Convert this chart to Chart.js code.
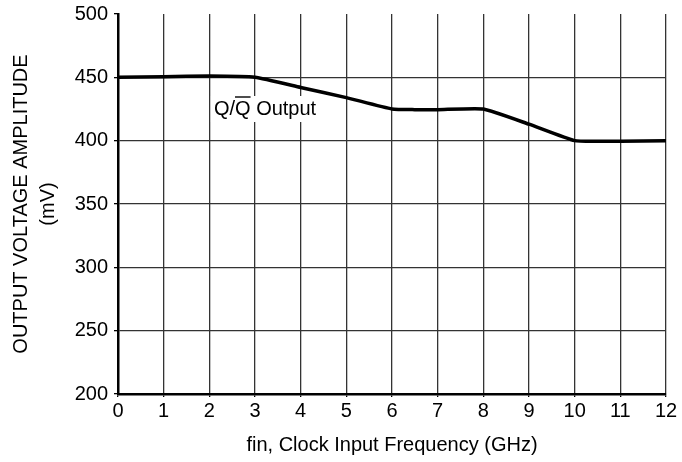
<!DOCTYPE html>
<html>
<head>
<meta charset="utf-8">
<script src="https://cdn.jsdelivr.net/npm/chart.js@4/dist/chart.umd.min.js"></script>
<style>
  html, body { margin: 0; padding: 0; background: #fff; }
  #wrap { width: 682px; height: 462px; }
</style>
</head>
<body>
<div id="wrap"><canvas id="ampChart" width="682" height="462"></canvas></div>
<script>
// values
const freqGHz = [0, 1, 2, 3, 4, 5, 6, 6.5, 7, 8, 9, 10, 10.5, 11, 12];
const amplitudeMv = [450, 450.5, 451, 450, 442, 434, 425, 424.5, 424.5, 425, 413, 400, 399.5, 399.5, 400];
const curveLabel = { x: 2.1, y: 425, main: 'Q/', bar: 'Q', tail: ' Output' };

const FONT = '"Liberation Sans", Arial, sans-serif';

// draws the "Q/Q Output" note with an overline over the second Q
const labelPlugin = {
    id: 'curveLabel',
    afterDatasetsDraw(chart) {
        const ctx = chart.ctx;
        const xs = chart.scales.x, ys = chart.scales.y;
        const px = xs.getPixelForValue(curveLabel.x);
        const py = ys.getPixelForValue(curveLabel.y);
        ctx.save();
        ctx.font = '20px ' + FONT;
        ctx.textBaseline = 'middle';
        const w1 = ctx.measureText(curveLabel.main).width;
        const w2 = ctx.measureText(curveLabel.bar).width;
        const w3 = ctx.measureText(curveLabel.tail).width;
        ctx.fillStyle = '#fff';
        ctx.fillRect(px - 3, py - 13, w1 + w2 + w3 + 6, 26);
        ctx.fillStyle = '#000';
        ctx.fillText(curveLabel.main, px, py);
        ctx.fillText(curveLabel.bar, px + w1, py);
        ctx.fillText(curveLabel.tail, px + w1 + w2, py);
        ctx.strokeStyle = '#000';
        ctx.lineWidth = 1.4;
        ctx.beginPath();
        ctx.moveTo(px + w1, py - 12);
        ctx.lineTo(px + w1 + w2, py - 12);
        ctx.stroke();
        ctx.restore();
    }
};

new Chart(document.getElementById('ampChart'), {
    type: 'line',
    data: {
        datasets: [{
            data: freqGHz.map((f, i) => ({ x: f, y: amplitudeMv[i] })),
            borderColor: '#000',
            borderWidth: 3.5,
            pointRadius: 0,
            tension: 0.15,
            fill: false
        }]
    },
    options: {
        responsive: false,
        animation: false,
        layout: { padding: { top: 14, right: 16, left: 0, bottom: 0 } },
        plugins: {
            legend: { display: false },
            tooltip: { enabled: false }
        },
        scales: {
            x: {
                type: 'linear',
                min: 0,
                max: 12,
                afterFit: s => { s.height = 68; s.paddingLeft = 0; s.paddingRight = 0; },
                ticks: { stepSize: 1, color: '#000', font: { family: FONT, size: 20 }, padding: 2 },
                grid: { color: '#333', lineWidth: 1.3, tickLength: 3, tickColor: '#000' },
                border: { color: '#000', width: 2.5 },
                title: {
                    display: true,
                    text: 'fin, Clock Input Frequency (GHz)',
                    color: '#000',
                    font: { family: FONT, size: 20 },
                    padding: { top: 8, bottom: 5 }
                }
            },
            y: {
                min: 200,
                max: 500,
                afterFit: s => { s.width = 118; s.paddingTop = 0; s.paddingBottom = 0; },
                ticks: { stepSize: 50, color: '#000', font: { family: FONT, size: 20 }, padding: 6 },
                grid: {
                    color: c => (c.tick && c.tick.value === 500) ? 'rgba(0,0,0,0)' : '#333',
                    lineWidth: 1.3,
                    tickLength: 4,
                    tickColor: '#000'
                },
                border: { color: '#000', width: 2.5 },
                title: {
                    display: true,
                    text: ['OUTPUT VOLTAGE AMPLITUDE', '(mV)'],
                    color: '#000',
                    font: { family: FONT, size: 20, lineHeight: 1.35 },
                    padding: { top: 8, bottom: 4 }
                }
            }
        }
    },
    plugins: [labelPlugin]
});
</script>
</body>
</html>
